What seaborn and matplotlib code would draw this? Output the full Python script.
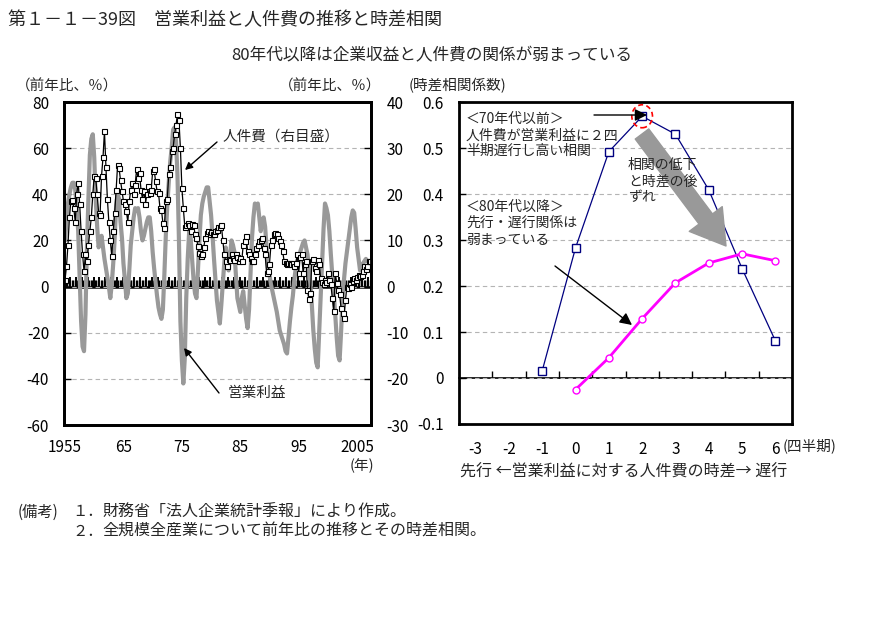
import numpy as np
import pandas as pd
import matplotlib
matplotlib.use("Agg")
import matplotlib.pyplot as plt
import seaborn as sns
from matplotlib.patches import Ellipse

sns.set_theme(style="white")
plt.rcParams["font.family"] = ["Noto Sans CJK JP", "DejaVu Sans"]
plt.rcParams["axes.unicode_minus"] = False

# ---------------- data ----------------
# quarterly year-on-year change (%), 1955Q1 onward
profit_yoy = [
    20, 28, 36, 40, 43, 45, 45, 42, 35, 24,
    5, -15, -26, -28, -12, 17, 38, 57, 64, 66,
    56, 38, 26, 17, 20, 22, 17, 12, 8, 4,
    0, -5, 1, 10, 21, 35, 40, 38, 28, 21,
    10, 3, -5, -3, 7, 18, 24, 30, 34, 33,
    34, 30, 24, 20, 22, 25, 28, 30, 30, 24,
    15, 8, 2, -4, -9, -12, -14, -10, 5, 22,
    35, 45, 54, 60, 68, 69, 63, 48, 20, -15,
    -32, -42, -31, -5, 12, 24, 21, 12, 3, -3,
    -5, 7, 20, 31, 36, 39, 41, 43, 43, 37,
    31, 22, 12, 3, -6, -11, -16, -8, 1, 10,
    17, 12, 7, 14, 20, 18, 15, 5, -5, -8,
    -11, -5, -2, -8, -14, -18, -10, 5, 21, 30,
    36, 35, 36, 30, 24, 28, 30, 26, 17, 8,
    5, 1, -2, -5, -8, -11, -15, -19, -21, -23,
    -25, -28, -29, -22, -15, -9, -4, 3, 8, 10,
    12, 15, 17, 19, 20, 17, 14, 8, 1, -8,
    -19, -27, -33, -35, -20, -5, 10, 25, 36, 34,
    31, 24, 14, 5, -3, -12, -22, -30, -32, -20,
    -5, 3, 10, 15, 20, 25, 30, 33, 32, 25,
    17, 12, 7, 8, 10, 11, 12, 11, 11, 10,
]
labor_yoy = [
    1.5, 4.4, 9, 15, 18.5, 18.8, 17, 14, 20, 22.5,
    18, 12, 7, 3.3, 7, 5.5, 9, 12, 15, 20,
    24, 23.5, 20, 16, 15.6, 24, 28, 33.7, 26, 19,
    14, 10, 6.6, 12, 16, 21, 26.4, 25.7, 23, 20.7,
    18.5, 17.8, 16.3, 14, 18.5, 21, 22.5, 20, 22, 25.4,
    23.5, 24.6, 21, 19, 20.7, 17.8, 20, 21.7, 20.3, 21,
    25, 25.4, 22.8, 20.7, 20.3, 17, 16.7, 13.8, 12.7, 18.5,
    19, 24.3, 26, 29.3, 30, 33, 35, 37.4, 36, 30,
    21.4, 17, 13, 13.4, 13.8, 13.4, 12, 13.6, 13.4, 11.3,
    10.5, 8.7, 7.2, 6.6, 7, 8.5, 10.5, 11.6, 12, 11.3,
    11.8, 11.3, 11.3, 12, 12.3, 13, 13, 13.4, 10.2, 7,
    5.5, 4.4, 6, 5.8, 7, 6.2, 5.8, 7, 6.5, 5.5,
    6.2, 5.5, 9, 9.8, 10.9, 7.7, 7, 6.2, 5.5, 5.5,
    7, 8.4, 9, 9.8, 10.2, 10.5, 8.4, 7, 3, 3.3,
    5, 9, 10.2, 11.3, 11.7, 11.3, 10.5, 9.8, 9, 7.7,
    5.5, 5.1, 4.8, 5.1, 5.1, 4.8, 5.1, 4.4, 5.1, 7,
    3, 6.5, 7, 3, 4.8, 5.5, -0.7, -2.8, -1.5, 5.5,
    6, 4, 3.3, 5.8, 4.8, 1.9, 1, 0.5, 1.5, 1,
    3, 1.5, 0.5, -2.5, -5.3, 3, 0.8, -0.8, -1.7, -4.6,
    -5.7, -6.8, -3, 0, -0.3, 0.5, 0, 1.2, 1.9, 1.5,
    2, 2.6, 2.2, 2.6, 3.3, 4.4, 3.8, 4.4, 5.5, 5.5,
]
year_tick_quarters = [0, 40, 80, 120, 160, 200]
year_labels = ["1955", "65", "75", "85", "95", "2005"]
left_ticks = [80, 60, 40, 20, 0, -20, -40, -60]
right_ticks = [40, 30, 20, 10, 0, -10, -20, -30]

# time-lag correlation
lags_pre70 = [-1, 0, 1, 2, 3, 4, 5, 6]
corr_pre70 = [0.016, 0.283, 0.492, 0.569, 0.530, 0.409, 0.238, 0.081]
lags_post80 = [0, 1, 2, 3, 4, 5, 6]
corr_post80 = [-0.025, 0.044, 0.129, 0.207, 0.250, 0.270, 0.255]
lag_categories = [-3, -2, -1, 0, 1, 2, 3, 4, 5, 6]
corr_ticks = [-0.1, 0, 0.1, 0.2, 0.3, 0.4, 0.5, 0.6]
corr_tick_labels = ["-0.1", "0", "0.1", "0.2", "0.3", "0.4", "0.5", "0.6"]

# ---------------- figure ----------------
W, H = 894, 630
fig = plt.figure(figsize=(W / 100, H / 100), dpi=100)
fig.patch.set_facecolor("white")


def fx(x):
    return x / W


def fy(y):
    return 1 - y / H


GRID = dict(color="#b4b4b4", linestyle=(0, (4, 3)), linewidth=0.8)

# ---- left panel ----
ax = fig.add_axes([fx(64.3), fy(425), (371 - 64.3) / W, (425 - 102) / H])
ax2 = ax.twinx()
n = len(profit_yoy)
df = pd.DataFrame({"q": np.arange(n), "profit": profit_yoy, "labor": labor_yoy})
sns.lineplot(data=df, x="q", y="profit", ax=ax, color="#999999", lw=3, sort=False)
sns.lineplot(data=df, x="q", y="labor", ax=ax2, color="black", lw=0.9, marker="s",
             markersize=3.6, markerfacecolor="white", markeredgecolor="black",
             markeredgewidth=0.8, sort=False)
ax.set_xlim(-0.5, n - 0.5)
ax.set_ylim(-60, 80)
ax2.set_ylim(-30, 40)
for a in (ax, ax2):
    a.set_xlabel("")
    a.set_ylabel("")
ax.set_yticks(left_ticks)
ax.set_yticklabels([str(v) for v in left_ticks])
ax2.set_yticks(right_ticks)
ax2.set_yticklabels([str(v) for v in right_ticks])
ax.set_xticks(year_tick_quarters)
ax.set_xticklabels(year_labels)
ax.grid(axis="y", **GRID)
ax.grid(axis="x", visible=False)
ax2.grid(False)
ax.tick_params(axis="y", left=True, direction="in", length=5, width=1, color="black",
               labelsize=11, pad=11, labelcolor="black")
ax.tick_params(axis="x", bottom=True, length=0, labelsize=11, pad=10, labelcolor="black")
ax2.tick_params(axis="y", right=True, direction="in", length=5, width=1, color="black",
                labelsize=11, pad=11, labelcolor="black")
for a in (ax, ax2):
    for s in a.spines.values():
        s.set_color("black")
        s.set_linewidth(2)

zero_axis = ax.secondary_xaxis(60 / 140)
zero_axis.set_xticks(np.arange(-0.5, n, 4))
zero_axis.set_xticks(np.arange(-0.5, n, 1), minor=True)
zero_axis.tick_params(which="major", bottom=True, direction="in", length=7, width=1.4,
                      color="black", labelbottom=False)
zero_axis.tick_params(which="minor", bottom=True, direction="in", length=5, width=1.0,
                      color="black", labelbottom=False)
zero_axis.spines["bottom"].set_linewidth(1.8)
zero_axis.spines["bottom"].set_color("black")

# ---- right panel ----
axr = fig.add_axes([fx(459), fy(424), (792 - 459) / W, (424 - 102) / H])
sns.lineplot(x=lags_pre70, y=corr_pre70, ax=axr, color="#000080", lw=0.9, marker="s",
             markersize=5.5, markerfacecolor="white", markeredgecolor="#000080",
             markeredgewidth=1, sort=False)
sns.lineplot(x=lags_post80, y=corr_post80, ax=axr, color="#ff00ff", lw=2, marker="o",
             markersize=5, markerfacecolor="white", markeredgecolor="#ff00ff",
             markeredgewidth=1, sort=False)
axr.set_xlim(-3.5, 6.5)
axr.set_ylim(-0.1, 0.6)
axr.set_xlabel("")
axr.set_ylabel("")
axr.set_xticks(lag_categories)
axr.set_xticklabels([str(v) for v in lag_categories])
axr.set_yticks(corr_ticks)
axr.set_yticklabels(corr_tick_labels)
axr.grid(axis="y", **GRID)
axr.grid(axis="x", visible=False)
axr.tick_params(axis="x", bottom=True, length=0, labelsize=11, pad=12, labelcolor="black")
axr.tick_params(axis="y", left=True, direction="in", length=5, width=1, color="black",
                labelsize=11, pad=11, labelcolor="black")
for s in axr.spines.values():
    s.set_color("black")
    s.set_linewidth(2)

zr = axr.secondary_xaxis(0.1 / 0.7)
zr.set_xticks(np.arange(lag_categories[0] + 0.5, lag_categories[-1], 1))
zr.tick_params(which="major", bottom=True, direction="in", length=5, width=1,
               color="black", labelbottom=False)
zr.spines["bottom"].set_linewidth(1.2)
zr.spines["bottom"].set_color("black")

# red dashed circle around the pre-70s peak
peak_i = int(np.argmax(corr_pre70))
axr.add_patch(Ellipse((lags_pre70[peak_i], corr_pre70[peak_i]), width=0.62, height=0.05,
                      fill=False, edgecolor="red", linestyle=(0, (3, 2)), linewidth=1.2,
                      zorder=5))

# ---------------- texts ----------------
fig.text(fx(8), fy(20), "第１－１－39図　営業利益と人件費の推移と時差相関",
         fontsize=13, ha="left", va="center")
fig.text(fx(432), fy(56), "80年代以降は企業収益と人件費の関係が弱まっている",
         fontsize=12, ha="center", va="center")
fig.text(fx(67), fy(86), "（前年比、％）", fontsize=10.5, ha="center", va="center")
fig.text(fx(330), fy(86), "（前年比、％）", fontsize=10.5, ha="center", va="center")
fig.text(fx(458), fy(86), "(時差相関係数)", fontsize=10.5, ha="center", va="center")
fig.text(fx(362), fy(466), "(年)", fontsize=10.5, ha="center", va="center")
fig.text(fx(783), fy(446), "(四半期)", fontsize=10.5, ha="left", va="center")
fig.text(fx(624), fy(472), "先行 ←営業利益に対する人件費の時差→ 遅行",
         fontsize=11.5, ha="center", va="center")

fig.text(fx(18), fy(512), "(備考)", fontsize=11, ha="left", va="center")
fig.text(fx(72), fy(512), "１．", fontsize=11, ha="left", va="center")
fig.text(fx(102), fy(512), "財務省「法人企業統計季報」により作成。", fontsize=11.5,
         ha="left", va="center")
fig.text(fx(72), fy(531), "２．", fontsize=11, ha="left", va="center")
fig.text(fx(102), fy(531), "全規模全産業について前年比の推移とその時差相関。", fontsize=11.5,
         ha="left", va="center")

# left-panel annotations
fig.text(fx(223), fy(137), "人件費（右目盛）", fontsize=10.5, ha="left", va="center")
fig.text(fx(228), fy(393), "営業利益", fontsize=10.5, ha="left", va="center")
arrow_thin = dict(arrowstyle="-|>", color="black", lw=1, mutation_scale=11,
                  shrinkA=0, shrinkB=0)
fig.add_artist(plt.Annotation("", xy=(fx(185), fy(170)), xytext=(fx(217), fy(142)),
                              xycoords="figure fraction", arrowprops=arrow_thin))
fig.add_artist(plt.Annotation("", xy=(fx(184), fy(348)), xytext=(fx(219), fy(393)),
                              xycoords="figure fraction", arrowprops=arrow_thin))

# right-panel annotations
small = 10
for txt, y in [("＜70年代以前＞", 119), ("人件費が営業利益に２四", 135.5),
               ("半期遅行し高い相関", 151), ("＜80年代以降＞", 207),
               ("先行・遅行関係は", 223), ("弱まっている", 240)]:
    fig.text(fx(466), fy(y), txt, fontsize=small, ha="left", va="center")
for txt, y in [("相関の低下", 165), ("と時差の後", 182), ("ずれ", 197)]:
    fig.text(fx(628), fy(y), txt, fontsize=small, ha="left", va="center")

fig.add_artist(plt.Annotation("", xy=(fx(647), fy(115)), xytext=(fx(594), fy(115)),
                              xycoords="figure fraction",
                              arrowprops=dict(arrowstyle="-|>", color="black", lw=1,
                                              mutation_scale=18, shrinkA=0, shrinkB=0)))
fig.add_artist(plt.Annotation("", xy=(fx(632), fy(325)), xytext=(fx(555), fy(266)),
                              xycoords="figure fraction",
                              arrowprops=dict(arrowstyle="-|>", color="black", lw=1,
                                              mutation_scale=18, shrinkA=0, shrinkB=0)))
fig.add_artist(plt.Annotation("", xy=(fx(726), fy(246)), xytext=(fx(642), fy(134)),
                              xycoords="figure fraction",
                              arrowprops=dict(arrowstyle="simple,head_length=0.9,head_width=1.1,tail_width=0.45",
                                              fc="#999999", ec="#999999", mutation_scale=27,
                                              shrinkA=0, shrinkB=0)))

fig.savefig("out.png", dpi=100, facecolor="white")
